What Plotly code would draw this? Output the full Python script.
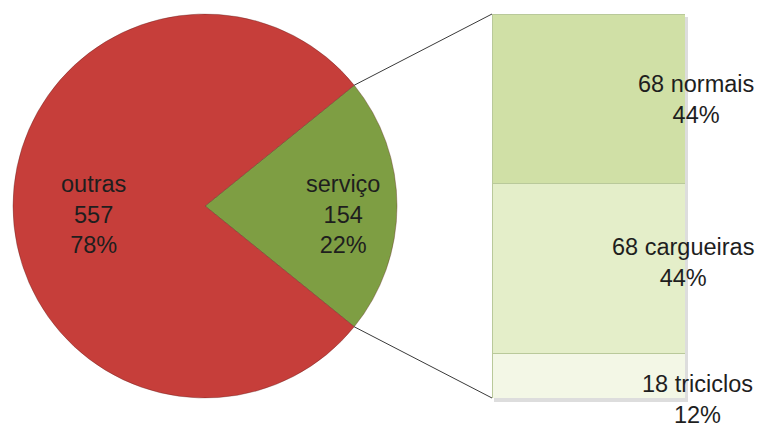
import math
import plotly.graph_objects as go

# ---- data ----
pie_labels = ["serviço", "outras"]
pie_values = [154, 557]
pie_pct = ["22%", "78%"]

bar_labels = ["triciclos", "cargueiras", "normais"]
bar_values = [18, 68, 68]
bar_pct = ["12%", "44%", "44%"]

# ---- geometry (pixels in the reference; page has an 8px body margin) ----
OFF = 8
W, H = 763 - OFF, 428 - OFF
cx, cy, R = 205 - OFF, 206 - OFF, 192
bx0, bx1 = 492 - OFF, 685 - OFF
btop, bbot = 14 - OFF, 398 - OFF

FONT = "Liberation Sans"
TXT = "#1e1e1e"
FS = 23.5

fig = go.Figure()

share = pie_values[0] / sum(pie_values)
rot = 90 - 360 * share / 2

fig.add_trace(go.Pie(
    labels=pie_labels, values=pie_values, sort=False, direction="clockwise",
    rotation=rot, textinfo="none", hoverinfo="label+value+percent",
    marker=dict(colors=["#7E9E43", "#C63E3A"], line=dict(color="rgba(90,30,25,0.35)", width=1)),
    domain=dict(x=[(cx - R) / W, (cx + R) / W], y=[(H - cy - R) / H, (H - cy + R) / H]),
    showlegend=False,
))

bar_colors = ["#F3F7E6", "#E4EEC9", "#D0E0A6"]
for lab, v, c in zip(bar_labels, bar_values, bar_colors):
    fig.add_trace(go.Bar(
        x=[0], y=[v], name=lab, width=1, marker=dict(color=c, line=dict(color="#B9C99A", width=1)),
        xaxis="x", yaxis="y", showlegend=False, hoverinfo="name+y",
    ))

total = sum(bar_values)
fig.update_layout(
    width=W, height=H, margin=dict(l=0, r=0, t=0, b=0),
    paper_bgcolor="white", plot_bgcolor="rgba(0,0,0,0)",
    barmode="stack",
    xaxis=dict(domain=[bx0 / W, bx1 / W], range=[-0.5, 0.5], visible=False, fixedrange=True),
    yaxis=dict(domain=[(H - bbot) / H, (H - btop) / H], range=[0, total], visible=False, fixedrange=True),
)

# soft shadow under the bar
fig.add_shape(type="rect", xref="paper", yref="paper", layer="below",
              x0=(bx0 + 2) / W, x1=(bx1 + 3) / W, y0=(H - bbot - 4) / H, y1=(H - btop - 3) / H,
              line=dict(width=0), fillcolor="rgba(120,120,120,0.25)")

# connector lines from pie slice edges to the bar corners
half = math.radians(360 * share / 2)
px = cx + R * math.cos(half)
for sgn, by in [(1, btop), (-1, bbot)]:
    py = cy - sgn * R * math.sin(half)
    fig.add_shape(type="line", xref="paper", yref="paper",
                  x0=px / W, y0=(H - py) / H, x1=bx0 / W, y1=(H - by) / H,
                  line=dict(color="#3a3a3a", width=1))

# pie labels
pie_text_pos = [(343 - OFF, 214 - OFF), (93 - OFF, 214 - OFF)]
for lab, v, p, (tx, ty) in zip(pie_labels, pie_values, pie_pct, pie_text_pos):
    fig.add_annotation(xref="paper", yref="paper", x=tx / W, y=(H - ty) / H,
                       xanchor="center", yanchor="middle",
                       text=f"{lab}<br>{v}<br>{p}", showarrow=False,
                       font=dict(family=FONT, size=FS, color=TXT), align="center")

# bar labels (paper coords so they are not clipped by the subplot)
cum = 0
yshifts = [-24, 6, -1]
xcent = [697, 683, 696]
for lab, v, p, ys, xc in zip(bar_labels, bar_values, bar_pct, yshifts, xcent):
    mid = cum + v / 2
    cum += v
    ypix = bbot - (bbot - btop) * mid / total - ys
    fig.add_annotation(xref="paper", yref="paper", x=(xc - OFF) / W, y=(H - ypix) / H,
                       xanchor="center", yanchor="middle",
                       text=f"{v} {lab}<br>{p}", showarrow=False,
                       font=dict(family=FONT, size=FS, color=TXT), align="center")

fig.write_html("out.html")
